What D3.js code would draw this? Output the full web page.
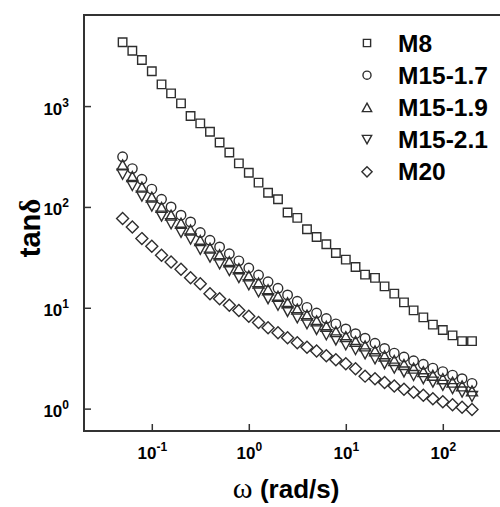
<!DOCTYPE html>
<html lang="en">
<head>
<meta charset="UTF-8">
<title>tan delta vs frequency</title>
<script src="https://cdn.jsdelivr.net/npm/d3@7"></script>
<style>
  body { margin: 0; background: #fff; }
  text { font-family: "Liberation Sans", Arial, sans-serif; font-weight: bold; fill: #000; }
  .mark { fill: none; stroke: #2e2e2e; stroke-width: 1.4; }
</style>
</head>
<body>
<script>
// angular frequency (rad/s), 10 points per decade
var omega = [0.05, 0.063, 0.079, 0.1, 0.126, 0.158, 0.2, 0.251, 0.316, 0.398,
             0.5, 0.63, 0.79, 1, 1.26, 1.58, 2, 2.51, 3.16, 3.98,
             5, 6.3, 7.9, 10, 12.6, 15.8, 20, 25.1, 31.6, 39.8,
             50, 63, 79, 100, 126, 158, 200];

var m8 = [4295, 3542, 2863, 2212, 1643, 1337, 1064, 796, 673, 556,
          436, 347, 270, 218, 174, 138, 119, 88, 77.8, 60.1,
          50.4, 42.6, 34.9, 30.0, 25.4, 21.3, 19.8, 16.3, 13.8, 11.3,
          9.42, 8.03, 6.81, 6.03, 5.32, 4.67, 4.67];

var m15_17 = [314, 240, 188, 150, 119, 100, 82.8, 71.0, 55.7, 46.7,
              40.1, 34.3, 29.2, 24.8, 21.1, 18.1, 15.6, 13.4, 11.6, 10.1,
              8.87, 7.82, 6.92, 6.17, 5.53, 4.99, 4.45, 3.95, 3.55, 3.25,
              2.98, 2.75, 2.52, 2.33, 2.15, 1.98, 1.78];

var m15_19 = [261, 200, 157, 125, 99, 83, 69, 59, 46.5, 39,
              33.5, 28.6, 24.4, 20.7, 17.6, 15.1, 13.0, 11.2, 9.7, 8.45,
              7.42, 6.55, 5.8, 5.17, 4.64, 4.19, 3.74, 3.33, 3.0, 2.74,
              2.52, 2.33, 2.14, 1.98, 1.83, 1.68, 1.50];

var m15_21 = [211, 163, 128, 102, 81, 68, 56, 48, 38, 31.8,
              27.3, 23.4, 19.9, 16.9, 14.4, 12.3, 10.6, 9.2, 7.95, 6.95,
              6.1, 5.4, 4.8, 4.3, 3.86, 3.49, 3.12, 2.79, 2.52, 2.31,
              2.13, 1.98, 1.83, 1.70, 1.58, 1.46, 1.32];

var m20 = [76.7, 63.3, 48.5, 40.7, 33.1, 28.4, 24.1, 19.9, 17.3, 13.8,
           12.3, 10.6, 9.42, 8.22, 7.16, 6.34, 5.66, 5.05, 4.50, 4.07,
           3.72, 3.34, 3.05, 2.79, 2.48, 2.1, 1.98, 1.82, 1.68, 1.56,
           1.45, 1.36, 1.25, 1.17, 1.09, 1.03, 0.98];

var seriesNames = ["M8", "M15-1.7", "M15-1.9", "M15-2.1", "M20"];
var seriesShapes = ["square", "circle", "triUp", "triDown", "diamond"];
var seriesValues = [m8, m15_17, m15_19, m15_21, m20];

var xTicks = [0.1, 1, 10, 100];
var yTicks = [1, 10, 100, 1000];

var width = 500, height = 507;
var margin = { top: 15, left: 84, bottom: 431 };

var x = d3.scaleLog().domain([0.02, 400]).range([margin.left, margin.left + 97 * Math.log10(400 / 0.02)]);
var y = d3.scaleLog().domain([0.6, 8000]).range([margin.bottom, margin.top]);

// marker outlines, centred on 0,0
function shapePath(kind, s) {
    var h = s / 2;
    if (kind == "square") return "M" + -h + "," + -h + "h" + s + "v" + s + "h" + -s + "Z";
    if (kind == "circle") return "M" + h + ",0A" + h + "," + h + " 0 1,1 " + -h + ",0A" + h + "," + h + " 0 1,1 " + h + ",0Z";
    if (kind == "triUp") return "M0," + -h + "L" + (h * 1.1) + "," + h + "L" + (-h * 1.1) + "," + h + "Z";
    if (kind == "triDown") return "M0," + h + "L" + (h * 1.1) + "," + -h + "L" + (-h * 1.1) + "," + -h + "Z";
    if (kind == "diamond") return "M0," + (-h * 1.2) + "L" + (h * 1.2) + ",0L0," + (h * 1.2) + "L" + (-h * 1.2) + ",0Z";
}
var markSize = { square: 8.5, circle: 9.5, triUp: 10, triDown: 10, diamond: 10 };

var svg = d3.select("body").append("svg")
    .attr("width", width)
    .attr("height", height);

// axes (ticks point inward)
var xAxis = d3.axisBottom(x).tickValues(xTicks).tickSizeInner(-7).tickSizeOuter(0).tickFormat("");
var yAxis = d3.axisLeft(y).tickValues(yTicks).tickSizeInner(-7).tickSizeOuter(0).tickFormat("");

var gx = svg.append("g").attr("transform", "translate(0," + margin.bottom + ")").call(xAxis);
var gy = svg.append("g").attr("transform", "translate(" + margin.left + ",0)").call(yAxis);
svg.selectAll(".domain").remove();
svg.selectAll(".tick line").attr("stroke", "#333").attr("stroke-width", 1.5);

function powerLabel(sel, exp) {
    sel.append("tspan").attr("font-size", 17).text("10");
    sel.append("tspan").attr("font-size", 12).attr("dy", -8).text(exp);
}

gx.selectAll(".tick").each(function (d) {
    var t = d3.select(this).append("text")
        .attr("x", 0)
        .attr("y", 28)
        .attr("text-anchor", "middle");
    powerLabel(t, Math.round(Math.log10(d)));
});

gy.selectAll(".tick").each(function (d) {
    var t = d3.select(this).append("text")
        .attr("x", -15)
        .attr("y", 8)
        .attr("text-anchor", "end");
    powerLabel(t, Math.round(Math.log10(d)));
});

// frame: left, top and bottom (right edge falls outside the picture)
var xr = x.range()[1];
svg.append("path")
    .attr("d", "M" + xr + "," + margin.top + "H" + margin.left + "V" + margin.bottom + "H" + xr)
    .attr("fill", "none")
    .attr("stroke", "#333")
    .attr("stroke-width", 2);

// data markers
seriesValues.forEach(function (vals, si) {
    var kind = seriesShapes[si];
    svg.append("g").selectAll("path")
        .data(vals)
        .enter().append("path")
        .attr("class", "mark")
        .attr("d", shapePath(kind, markSize[kind]))
        .attr("transform", (d, i) => "translate(" + x(omega[i]) + "," + y(d) + ")");
});

// legend
var legend = svg.append("g");
seriesNames.forEach(function (name, i) {
    var ly = 43 + i * 32.2;
    var kind = seriesShapes[i];
    legend.append("path")
        .attr("class", "mark")
        .attr("d", shapePath(kind, markSize[kind] * 0.85))
        .attr("transform", "translate(367," + ly + ")");
    legend.append("text")
        .attr("x", 398)
        .attr("y", ly + 8.5)
        .attr("font-size", 24.5)
        .text(name);
});

// axis titles
var yTitle = svg.append("text")
    .attr("transform", "translate(40,228) rotate(-90)")
    .attr("text-anchor", "middle")
    .attr("font-size", 29);
yTitle.append("tspan").text("tan");
yTitle.append("tspan").attr("font-family", "'Liberation Serif', serif").text("δ");

var xTitle = svg.append("text")
    .attr("x", 286)
    .attr("y", 498)
    .attr("text-anchor", "middle")
    .attr("font-size", 26);
xTitle.append("tspan").attr("font-family", "'Liberation Serif', serif").attr("font-weight", "normal").attr("font-size", 30).text("ω ");
xTitle.append("tspan").text("(rad/s)");
</script>
</body>
</html>
